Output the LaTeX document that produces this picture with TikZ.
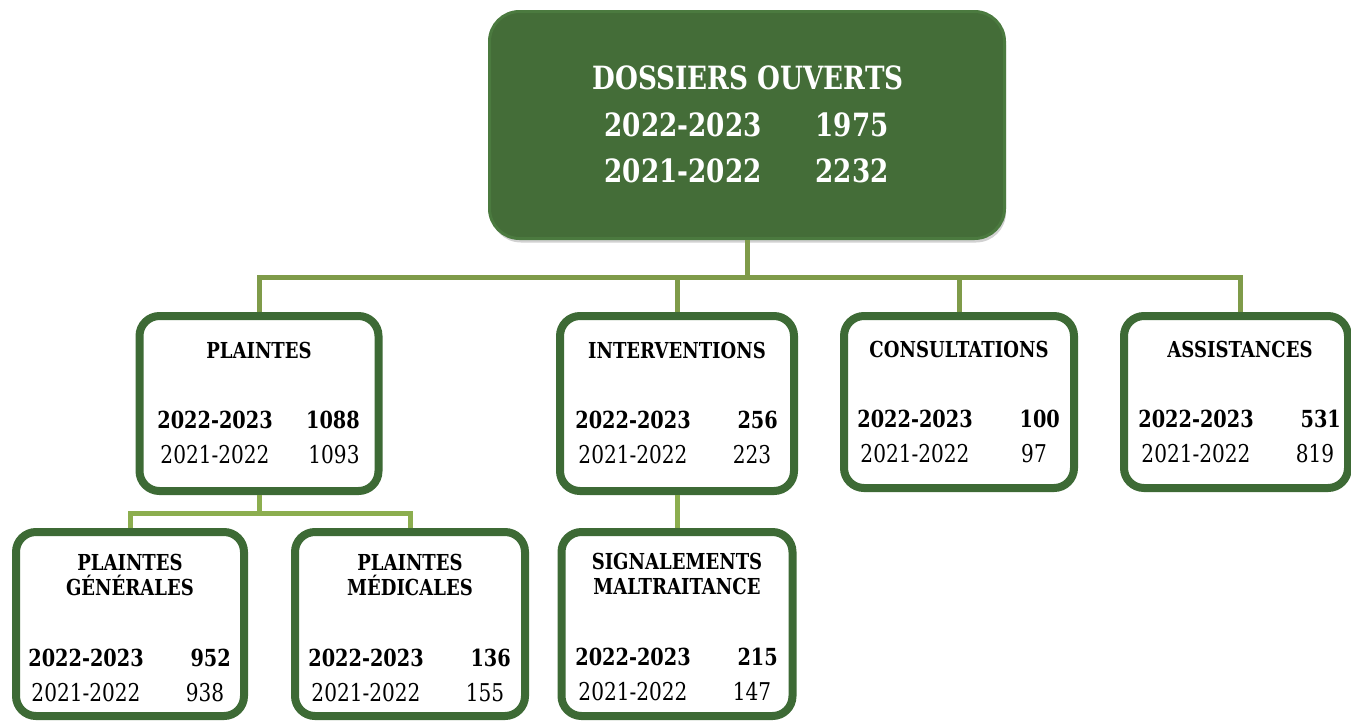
\documentclass[tikz,border=0pt]{standalone}
\usepackage{fontspec}
\setmainfont[FakeStretch=0.82]{DejaVu Serif}
\usetikzlibrary{shadows}

\definecolor{boxgreen}{HTML}{3D6A35}
\definecolor{headfill}{HTML}{446D38}
\definecolor{headline}{HTML}{4B7A3F}
\definecolor{linkmain}{HTML}{7F9B49}
\definecolor{linksub}{HTML}{8CAE4F}

\tikzset{
  card/.style={draw=boxgreen, line width=8pt, fill=white, rounded corners=20pt,
    inner sep=0pt, drop shadow={shadow xshift=1.5pt, shadow yshift=-3pt, opacity=0.25, fill=black!60}},
  head/.style={draw=headline, line width=3pt, fill=headfill, rounded corners=30pt,
    inner sep=0pt, drop shadow={shadow xshift=1.5pt, shadow yshift=-4pt, opacity=0.3, fill=black!60}},
  link/.style={draw=linkmain, line width=5pt},
  sublink/.style={draw=linksub, line width=5pt},
  ttl/.style={font=\fontsize{22}{25}\selectfont\bfseries, align=center, inner sep=0pt, anchor=base},
  bnum/.style={font=\fontsize{23.5}{26}\selectfont\bfseries, inner sep=0pt},
  rnum/.style={font=\fontsize{24.5}{26}\selectfont, inner sep=0pt},
  headtxt/.style={text=white, font=\fontsize{32}{36}\selectfont\bfseries, inner sep=0pt, anchor=base}
}

% box: name, centre x, top, bottom, width (outer edges)
\newcommand\statbox[5]{%
  \node[card, minimum width={#5-8}, minimum height={#4-#3-8}] (#1) at ({#2},{(#3+#4)/2}) {};
}
% two rows of figures: name, centre x, first baseline, current figure, previous figure
\newcommand\statdata[5]{%
  \node[bnum, anchor=base] (#1-y1) at ({#2-44},{#3}) {2022-2023};
  \node[bnum, anchor=base east] (#1-n1) at ({#2+101},{#3}) {#4};
  \node[rnum, anchor=base] (#1-y2) at ({#2-44},{#3+35}) {2021-2022};
  \node[rnum, anchor=base] (#1-n2) at ({#2+75},{#3+35}) {#5};
}

\begin{document}
\begin{tikzpicture}[x=1pt, y=-1pt]
\useasboundingbox (0,0) rectangle (1351,723);

% headline box
\node[head, minimum width=515, minimum height=227] (top) at (747,125) {};
\node[headtxt] (h1) at (748,89) {DOSSIERS OUVERTS};
\node[headtxt] (h2a) at (683,136) {2022-2023};
\node[headtxt] (h2b) at (852,136) {1975};
\node[headtxt] (h3a) at (683,182) {2021-2022};
\node[headtxt] (h3b) at (852,182) {2232};

% first level
\statbox{plaintes}{259}{312}{495}{247}
\statbox{interv}{677}{312}{495}{242}
\statbox{consult}{959}{312}{492}{238}
\statbox{assist}{1236}{312}{492}{232}

% second level
\statbox{generales}{130}{528}{720}{236}
\statbox{medicales}{410}{528}{720}{238}
\statbox{signal}{677}{528}{720}{239}

% titles (two-line titles are placed by their last baseline)
\node[ttl] (plaintes-t) at (259,358) {PLAINTES};
\node[ttl] (interv-t) at (677,358) {INTERVENTIONS};
\node[ttl] (consult-t) at (959,357) {CONSULTATIONS};
\node[ttl] (assist-t) at (1240,357) {ASSISTANCES};
\node[ttl] (generales-t) at (130,595) {PLAINTES\\GÉNÉRALES};
\node[ttl] (medicales-t) at (410,595) {PLAINTES\\MÉDICALES};
\node[ttl] (signal-t) at (677,594) {SIGNALEMENTS\\MALTRAITANCE};

% figures
\statdata{plaintes}{259}{428}{1088}{1093}
\statdata{interv}{677}{428}{256}{223}
\statdata{consult}{959}{427}{100}{97}
\statdata{assist}{1240}{427}{531}{819}
\statdata{generales}{130}{666}{952}{938}
\statdata{medicales}{410}{666}{136}{155}
\statdata{signal}{677}{665}{215}{147}

% connectors
\coordinate (hub) at (747,277);
\coordinate (subhub) at (259,513);
\draw[link] (top.south) -- (hub);
\draw[link] (hub) -| (plaintes.north);
\draw[link] (hub) -| (interv.north);
\draw[link] (hub) -| (consult.north);
\draw[link] (hub) -| ([xshift=4pt]assist.north);
\draw[sublink] (plaintes.south) -- (subhub);
\draw[sublink] (subhub) -| (generales.north);
\draw[sublink] (subhub) -| (medicales.north);
\draw[sublink] (interv.south) -- (signal.north);
\end{tikzpicture}
\end{document}
